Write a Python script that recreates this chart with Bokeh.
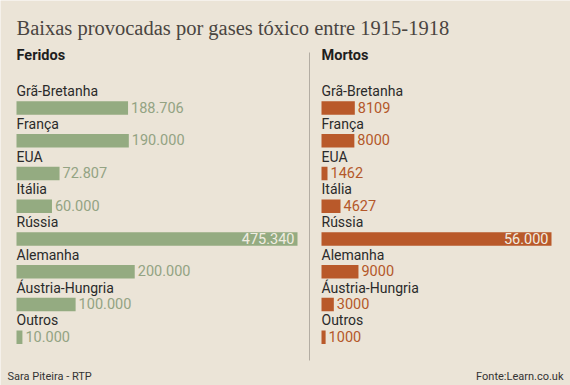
from bokeh.plotting import figure
from bokeh.models import Range1d, ColumnDataSource
from bokeh.core.properties import value
from bokeh.embed import file_html
from bokeh.resources import INLINE

# ---- data ----
countries = ["Grã-Bretanha", "França", "EUA", "Itália", "Rússia", "Alemanha", "Áustria-Hungria", "Outros"]
feridos = [188706, 190000, 72807, 60000, 475340, 200000, 100000, 10000]
mortos = [8109, 8000, 1462, 4627, 56000, 9000, 3000, 1000]
title = "Baixas provocadas por gases tóxico entre 1915-1918"
panel_titles = ["Feridos", "Mortos"]
credit = "Sara Piteira - RTP"
source_txt = "Fonte:Learn.co.uk"

W, H = 570, 385


def fmt(v):
    return f"{v:,}".replace(",", ".") if v >= 10000 else str(v)


p = figure(width=W, height=H, output_backend="svg", toolbar_location=None,
           x_range=Range1d(0, W), y_range=Range1d(H, 0),
           min_border=0, border_fill_color="#ebe4d7", background_fill_color="#ebe4d7")
p.axis.visible = False
p.grid.visible = False
p.outline_line_color = None

# panel scales: origin pixel and pixel length of the largest bar
panels = [
    ("fer", feridos, 16, 281, "#94ab81", "#93a383"),
    ("mor", mortos, 321, 230, "#b9592a", "#b4582a"),
]
for name, vals, x0, length, bar_col, txt_col in panels:
    s = length / max(vals)
    p.extra_x_ranges[name] = Range1d(-x0 / s, (W - x0) / s)

row0 = 107.5
step = 32.75
ys = [row0 + i * step for i in range(len(countries))]
bar_h = 13.5

for (name, vals, x0, length, bar_col, txt_col), ptitle in zip(panels, panel_titles):
    src = ColumnDataSource(dict(y=ys, v=vals, c=countries, ly=[y - 17 for y in ys]))
    p.hbar(y="y", left=0, right="v", height=bar_h, source=src, x_range_name=name,
           fill_color=bar_col, line_color=None)
    p.text(x=0, y="ly", text="c", source=src, x_range_name=name,
           text_font=value("Roboto"), text_font_size="14px", text_color="#2a2a2a",
           text_baseline="middle", text_align="left")
    vmax = max(vals)
    out = ColumnDataSource(dict(y=[y for y, v in zip(ys, vals) if v != vmax],
                                v=[v for v in vals if v != vmax],
                                lab=[fmt(v) for v in vals if v != vmax]))
    inn = ColumnDataSource(dict(y=[y for y, v in zip(ys, vals) if v == vmax],
                                v=[v for v in vals if v == vmax],
                                lab=[fmt(v) for v in vals if v == vmax]))
    p.text(x="v", y="y", text="lab", source=out, x_range_name=name, x_offset=3, y_offset=-1,
           text_font=value("Roboto"), text_font_size="14.5px", text_color=txt_col,
           text_baseline="middle", text_align="left")
    p.text(x="v", y="y", text="lab", source=inn, x_range_name=name, x_offset=-3, y_offset=-1,
           text_font=value("Roboto"), text_font_size="14.5px", text_color="#f1ede2",
           text_baseline="middle", text_align="right")
    p.text(x=0, y=55, text=[ptitle], x_range_name=name,
           text_font=value("Roboto"), text_font_size="14.5px", text_font_style="bold",
           text_color="#1e1e1e", text_baseline="middle", text_align="left")

# divider
p.segment(x0=[309], y0=[52], x1=[309], y1=[360], line_color="#b3ada3", line_width=1)

# title
p.text(x=[16], y=[27], text=[title], text_font=value("Liberation Serif"),
       text_font_size="20.5px", text_color="#4a4541", text_baseline="middle", text_align="left")

# footer
p.text(x=[7], y=[376], text=[credit], text_font=value("Roboto"), text_font_size="11px",
       text_color="#333333", text_baseline="middle", text_align="left")
p.text(x=[563], y=[376], text=[source_txt], text_font=value("Roboto"), text_font_size="11px",
       text_color="#333333", text_baseline="middle", text_align="right")

open("out.html", "w").write(file_html(p, INLINE))
